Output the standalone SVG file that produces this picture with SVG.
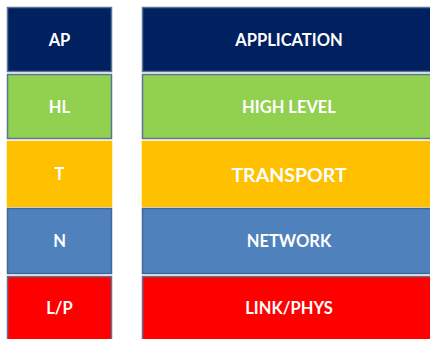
<svg xmlns="http://www.w3.org/2000/svg" width="430" height="339" viewBox="0 0 430 339">
  <style>
    .box { stroke: #5a7396; stroke-width: 1.5; }
    .ap { fill: #002060; }
    .hl { fill: #92d050; }
    .t  { fill: #ffc000; stroke: #ffc000; }
    .n  { fill: #4f81bd; stroke: #41689a; }
    .lp { fill: #ff0000; }
    text { fill: #ffffff; font-family: Lato, "Liberation Sans", Arial, sans-serif; font-weight: bold; font-size: 16.5px; text-anchor: middle; dominant-baseline: central; }
    .big { font-size: 19.5px; }
  </style>
  <rect width="430" height="339" fill="#ffffff"/>

  <!-- short-name column -->
  <g id="ap"><rect class="box ap" x="7.5" y="7.5" width="104" height="64"/><text x="59.5" y="40">AP</text></g>
  <g id="hl"><rect class="box hl" x="7.5" y="74.5" width="104" height="64"/><text x="59.5" y="107">HL</text></g>
  <g id="t"><rect class="box t" x="7.5" y="141.5" width="104" height="65"/><text x="59.5" y="174">T</text></g>
  <g id="n"><rect class="box n" x="7.5" y="208.5" width="104" height="65"/><text x="59.5" y="241">N</text></g>
  <g id="lp"><rect class="box lp" x="7.5" y="276.5" width="104" height="70"/><text x="59.5" y="308">L/P</text></g>

  <!-- full-name column -->
  <g id="application"><rect class="box ap" x="142.5" y="7.5" width="300" height="64"/><text x="289" y="40">APPLICATION</text></g>
  <g id="high-level"><rect class="box hl" x="142.5" y="74.5" width="300" height="64"/><text x="289" y="107">HIGH LEVEL</text></g>
  <g id="transport"><rect class="box t" x="142.5" y="141.5" width="300" height="65"/><text class="big" x="289" y="174">TRANSPORT</text></g>
  <g id="network"><rect class="box n" x="142.5" y="208.5" width="300" height="65"/><text x="289" y="241">NETWORK</text></g>
  <g id="link-phys"><rect class="box lp" x="142.5" y="276.5" width="300" height="70"/><text x="289" y="308">LINK/PHYS</text></g>

  <g id="connectors"/>
</svg>
